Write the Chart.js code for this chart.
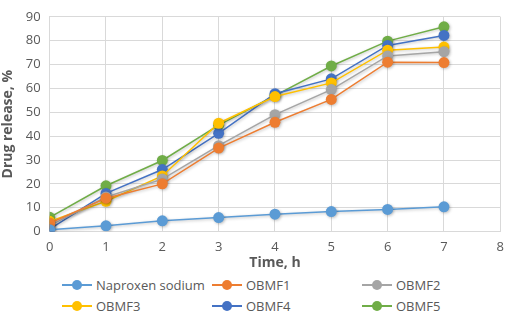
<!DOCTYPE html>
<html>
<head>
<meta charset="utf-8">
<script src="https://cdn.jsdelivr.net/npm/chart.js@4/dist/chart.umd.min.js"></script>
<style>
  html, body { margin: 0; padding: 0; background: #fff; }
  #wrap { position: relative; width: 512px; height: 312px; font-family: "Open Sans", sans-serif; }
  #chart-box { position: absolute; left: 0; top: 0; width: 512px; height: 271px; }
  #legend { position: absolute; left: 0; top: 275px; width: 512px; }
  .item { position: absolute; height: 20px; font-size: 13px; color: #595959; line-height: 20px; white-space: nowrap; }
  .mark { position: absolute; left: 0; top: 9px; width: 30px; height: 1.5px; }
  .dot { position: absolute; left: 10px; top: 5px; width: 10px; height: 10px; border-radius: 50%; }
  .txt { position: absolute; left: 34px; top: 0; }
</style>
</head>
<body>
<div id="wrap">
  <div id="chart-box"><canvas id="release-chart"></canvas></div>
  <div id="legend"></div>
</div>
<script>
const hours = [0, 1, 2, 3, 4, 5, 6, 7];
const seriesNames = ['Naproxen sodium', 'OBMF1', 'OBMF2', 'OBMF3', 'OBMF4', 'OBMF5'];
const naproxen = [0.8, 2.4, 4.5, 5.9, 7.3, 8.4, 9.3, 10.4];
const obmf1 = [3.5, 14, 20, 35, 45.8, 55.4, 71, 70.8];
const obmf2 = [2.5, 14.5, 22, 36, 49, 59.5, 73.6, 75.4];
const obmf3 = [4.3, 12.7, 23.3, 45.4, 56.6, 62.3, 76, 77.3];
const obmf4 = [1, 16, 26, 41.2, 57.8, 64, 78, 82.2];
const obmf5 = [6, 19.2, 29.8, 44.6, 57, 69.4, 79.8, 85.8];
const colors = ['#5B9BD5', '#ED7D31', '#A5A5A5', '#FFC000', '#4472C4', '#70AD47'];

const allValues = [naproxen, obmf1, obmf2, obmf3, obmf4, obmf5];
const tickColor = '#595959';
const gridColor = '#D9D9D9';

// little shadow under the markers like the office chart
const shadowPlugin = {
  id: 'markerShadow',
  beforeDatasetsDraw(chart) {
    chart.ctx.save();
    chart.ctx.shadowColor = 'rgba(0,0,0,0.25)';
    chart.ctx.shadowBlur = 3;
    chart.ctx.shadowOffsetX = 1;
    chart.ctx.shadowOffsetY = 1;
  },
  afterDatasetsDraw(chart) {
    chart.ctx.restore();
  }
};

new Chart(document.querySelector('#release-chart').getContext('2d'), {
  type: 'line',
  data: {
    datasets: allValues.map((vals, i) => ({
      label: seriesNames[i],
      data: vals.map((v, j) => ({ x: hours[j], y: v })),
      borderColor: colors[i],
      backgroundColor: colors[i],
      borderWidth: 1.5,
      pointRadius: 5.5,
      pointHoverRadius: 5.5,
      pointBorderWidth: 0,
      tension: 0
    }))
  },
  options: {
    responsive: true,
    maintainAspectRatio: false,
    animation: false,
    layout: { padding: { left: 0, right: 2, top: 0, bottom: 0 } },
    plugins: {
      legend: { display: false },
      tooltip: { enabled: false }
    },
    scales: {
      x: {
        type: 'linear',
        min: 0,
        max: 8,
        ticks: { stepSize: 1, color: tickColor, font: { family: 'Open Sans', size: 13 }, padding: 8 },
        grid: { color: gridColor, drawTicks: false },
        border: { color: gridColor },
        title: { display: true, text: 'Time, h', color: tickColor, font: { family: 'Open Sans', size: 14, weight: 'bold' }, padding: { top: -9, bottom: 0 } }
      },
      y: {
        min: 0,
        max: 90,
        ticks: { stepSize: 10, color: tickColor, font: { family: 'Open Sans', size: 13 }, padding: 9 },
        grid: { color: gridColor, drawTicks: false },
        border: { color: gridColor },
        title: { display: true, text: 'Drug release, %', color: tickColor, font: { family: 'Open Sans', size: 14, weight: 'bold' }, padding: { top: 0, bottom: 0 } }
      }
    }
  },
  plugins: [shadowPlugin]
});

// legend, three columns in two rows
const legend = document.querySelector('#legend');
seriesNames.forEach((name, i) => {
  const item = document.createElement('div');
  item.className = 'item';
  item.style.left = (62 + (i % 3) * 150) + 'px';
  item.style.top = (Math.floor(i / 3) * 21) + 'px';
  item.innerHTML = '<span class="mark" style="background:' + colors[i] + '"></span>' +
    '<span class="dot" style="background:' + colors[i] + '"></span>' +
    '<span class="txt">' + name + '</span>';
  legend.appendChild(item);
});
</script>
</body>
</html>
